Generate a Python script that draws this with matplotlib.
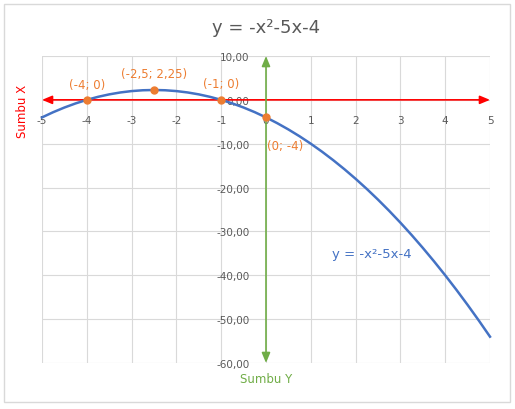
import matplotlib
matplotlib.use("Agg")
import matplotlib.pyplot as plt
from matplotlib.patches import Rectangle

# Data
curve_x = [-5, -4.75, -4.5, -4.25, -4, -3.75, -3.5, -3.25, -3, -2.75, -2.5, -2.25, -2, -1.75, -1.5, -1.25,
           -1, -0.75, -0.5, -0.25, 0, 0.25, 0.5, 0.75, 1, 1.25, 1.5, 1.75, 2, 2.25, 2.5, 2.75, 3, 3.25,
           3.5, 3.75, 4, 4.25, 4.5, 4.75, 5]
curve_y = [-4, -2.8125, -1.75, -0.8125, 0, 0.6875, 1.25, 1.6875, 2, 2.1875, 2.25, 2.1875, 2, 1.6875, 1.25,
           0.6875, 0, -0.8125, -1.75, -2.8125, -4, -5.3125, -6.75, -8.3125, -10, -11.8125, -13.75, -15.8125,
           -18, -20.3125, -22.75, -25.3125, -28, -30.8125, -33.75, -36.8125, -40, -43.3125, -46.75, -50.3125, -54]
point_x = [-4, -2.5, -1, 0]
point_y = [0, 2.25, 0, -4]
point_labels = ["(-4; 0)", "(-2,5; 2,25)", "(-1; 0)", "(0; -4)"]
x_ticks = [-5, -4, -3, -2, -1, 0, 1, 2, 3, 4, 5]
y_ticks = [10, 0, -10, -20, -30, -40, -50, -60]
y_tick_labels = ["10,00", "0,00", "-10,00", "-20,00", "-30,00", "-40,00", "-50,00", "-60,00"]
title = "y = -x²-5x-4"

BLUE = "#4472C4"
ORANGE = "#ED7D31"
GREEN = "#70AD47"
RED = "#FF0000"
GREY = "#595959"

fig = plt.figure(figsize=(5.15, 4.1), dpi=100)
fig.patches.append(Rectangle((4/515, 1-403/410), 506/515, 398/410, transform=fig.transFigure,
                             fill=False, edgecolor="#d9d9d9", linewidth=1))
ax = fig.add_axes([42/515, 1-364/410, 448/515, 307/410])
ax.set_xlim(-5, 5)
ax.set_ylim(-60, 10)

ax.set_xticks(x_ticks)
ax.set_xticklabels([str(v) for v in x_ticks])
ax.set_yticks(y_ticks)
ax.set_yticklabels(y_tick_labels)
ax.grid(True, color="#d9d9d9", linewidth=0.8)
ax.set_axisbelow(True)
for s in ax.spines.values():
    s.set_visible(False)
ax.spines['left'].set_position(('data', 0))
ax.spines['bottom'].set_position(('data', 0))
ax.tick_params(axis='both', length=0, labelsize=7.5, labelcolor=GREY)
ax.tick_params(axis='x', pad=11)
ax.tick_params(axis='y', pad=12)

# axis arrows
ax.annotate("", xy=(5, 0), xytext=(-5, 0),
            arrowprops=dict(arrowstyle="<|-|>,head_length=0.6,head_width=0.25", color=RED, lw=1.2,
                            shrinkA=0, shrinkB=0))
ax.annotate("", xy=(0, 10), xytext=(0, -60),
            arrowprops=dict(arrowstyle="<|-|>,head_length=0.6,head_width=0.25", color=GREEN, lw=1.2,
                            shrinkA=0, shrinkB=0))

ax.plot(curve_x, curve_y, color=BLUE, lw=1.8, clip_on=False, zorder=3)
ax.plot(point_x, point_y, 'o', color=ORANGE, ms=5, zorder=4, clip_on=False)

offsets = [(0, 15), (0, 16), (0, 16), (19, -28)]
for x, y, t, (dx, dy) in zip(point_x, point_y, point_labels, offsets):
    ax.annotate(t, (x, y), xytext=(dx, dy), textcoords='offset pixels', ha='center', va='center',
                color=ORANGE, fontsize=8.5)

ax.text(1.48, -35, "y = -x²-5x-4", color=BLUE, fontsize=9.5, va='center', ha='left')

fig.text(266/515, 1-28/410, title, ha='center', va='center', fontsize=13, color=GREY)
fig.text(22/515, 1-111/410, "Sumbu X", rotation=90, ha='center', va='center', fontsize=8.5, color=RED)
fig.text(266/515, 1-380/410, "Sumbu Y", ha='center', va='center', fontsize=8.5, color=GREEN)

fig.savefig("out.png", dpi=100)
